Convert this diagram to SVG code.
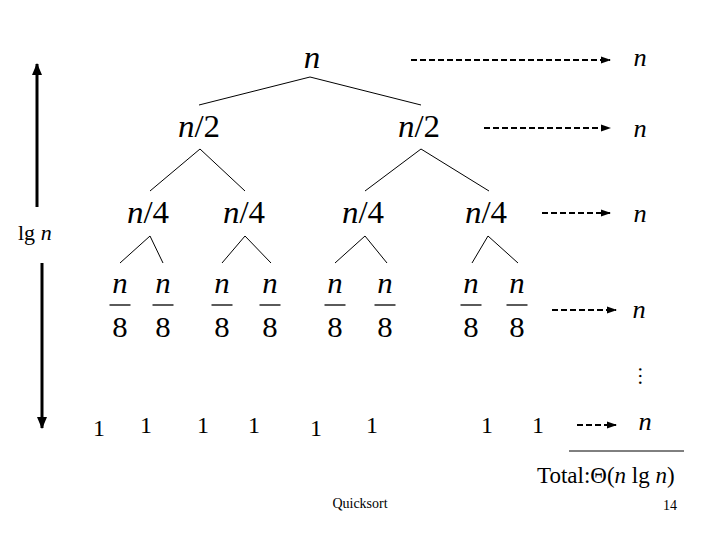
<svg xmlns="http://www.w3.org/2000/svg" width="720" height="540" viewBox="0 0 720 540">
<style>
text{font-family:"Liberation Serif","Times New Roman",serif;fill:#000;font-size:22px}
.i{font-style:italic}
.m{text-anchor:middle}
.edge{stroke:#000;stroke-width:1;fill:none}
.bar{stroke:#000;stroke-width:1.3}
.dash{stroke:#000;stroke-width:2;stroke-dasharray:6 3;fill:none}
.big{stroke:#000;stroke-width:3;fill:none}
</style>
<defs>
<marker id="ah" markerUnits="userSpaceOnUse" markerWidth="10" markerHeight="8" refX="9" refY="4" orient="auto"><path d="M0,0.5 L10,4 L0,7.5 z" fill="#000"/></marker>
<marker id="ahb" markerUnits="userSpaceOnUse" markerWidth="12" markerHeight="10" refX="11" refY="5" orient="auto"><path d="M0,0 L12,5 L0,10 z" fill="#000"/></marker>
</defs>
<rect width="720" height="540" fill="#fff"/>

<g id="connectors">
<line class="edge" x1="310" y1="77" x2="199" y2="105"/>
<line class="edge" x1="310" y1="77" x2="421" y2="105"/>
<line class="edge" x1="200" y1="149" x2="150" y2="191"/>
<line class="edge" x1="200" y1="149" x2="245" y2="191"/>
<line class="edge" x1="421" y1="149" x2="365" y2="191"/>
<line class="edge" x1="421" y1="149" x2="489" y2="191"/>
<line class="edge" x1="150" y1="236" x2="120" y2="263"/>
<line class="edge" x1="150" y1="236" x2="163" y2="263"/>
<line class="edge" x1="245" y1="236" x2="222" y2="263"/>
<line class="edge" x1="245" y1="236" x2="271" y2="263"/>
<line class="edge" x1="365" y1="236" x2="335" y2="263"/>
<line class="edge" x1="365" y1="236" x2="387" y2="263"/>
<line class="edge" x1="488" y1="236" x2="472" y2="263"/>
<line class="edge" x1="488" y1="236" x2="518" y2="263"/>
<line class="dash" x1="411" y1="60" x2="610" y2="60" marker-end="url(#ah)"/>
<line class="dash" x1="484" y1="128" x2="610" y2="128" marker-end="url(#ah)"/>
<line class="dash" x1="542" y1="213" x2="610" y2="213" marker-end="url(#ah)"/>
<line class="dash" x1="552" y1="310" x2="616" y2="310" marker-end="url(#ah)"/>
<line class="dash" x1="577" y1="425" x2="616" y2="425" marker-end="url(#ah)"/>
<line class="big" x1="37" y1="207" x2="37" y2="64" marker-end="url(#ahb)"/>
<line class="big" x1="42" y1="263" x2="42" y2="428" marker-end="url(#ahb)"/>
<line class="edge" x1="569" y1="451" x2="684" y2="451"/>
</g>

<g id="n-root"><text class="m i" transform="translate(312,68) scale(1.5,1.4)">n</text></g>
<g id="n2-left"><text class="m" transform="translate(199,137) scale(1.5,1.4)"><tspan class="i">n</tspan>/2</text></g>
<g id="n2-right"><text class="m" transform="translate(419,137) scale(1.5,1.4)"><tspan class="i">n</tspan>/2</text></g>
<g id="n4-1"><text class="m" transform="translate(148,223) scale(1.5,1.4)"><tspan class="i">n</tspan>/4</text></g>
<g id="n4-2"><text class="m" transform="translate(244,223) scale(1.5,1.4)"><tspan class="i">n</tspan>/4</text></g>
<g id="n4-3"><text class="m" transform="translate(363,223) scale(1.5,1.4)"><tspan class="i">n</tspan>/4</text></g>
<g id="n4-4"><text class="m" transform="translate(486,223) scale(1.5,1.4)"><tspan class="i">n</tspan>/4</text></g>

<g id="n8-1"><text class="m i" transform="translate(120,293) scale(1.4,1.3)">n</text><line class="bar" x1="109.5" y1="305" x2="130.5" y2="305"/><text class="m" transform="translate(120,337) scale(1.4,1.3)">8</text></g>
<g id="n8-2"><text class="m i" transform="translate(163,293) scale(1.4,1.3)">n</text><line class="bar" x1="152.5" y1="305" x2="173.5" y2="305"/><text class="m" transform="translate(163,337) scale(1.4,1.3)">8</text></g>
<g id="n8-3"><text class="m i" transform="translate(222,293) scale(1.4,1.3)">n</text><line class="bar" x1="211.5" y1="305" x2="232.5" y2="305"/><text class="m" transform="translate(222,337) scale(1.4,1.3)">8</text></g>
<g id="n8-4"><text class="m i" transform="translate(270,293) scale(1.4,1.3)">n</text><line class="bar" x1="259.5" y1="305" x2="280.5" y2="305"/><text class="m" transform="translate(270,337) scale(1.4,1.3)">8</text></g>
<g id="n8-5"><text class="m i" transform="translate(335,293) scale(1.4,1.3)">n</text><line class="bar" x1="324.5" y1="305" x2="345.5" y2="305"/><text class="m" transform="translate(335,337) scale(1.4,1.3)">8</text></g>
<g id="n8-6"><text class="m i" transform="translate(385,293) scale(1.4,1.3)">n</text><line class="bar" x1="374.5" y1="305" x2="395.5" y2="305"/><text class="m" transform="translate(385,337) scale(1.4,1.3)">8</text></g>
<g id="n8-7"><text class="m i" transform="translate(471,293) scale(1.4,1.3)">n</text><line class="bar" x1="460.5" y1="305" x2="481.5" y2="305"/><text class="m" transform="translate(471,337) scale(1.4,1.3)">8</text></g>
<g id="n8-8"><text class="m i" transform="translate(517,293) scale(1.4,1.3)">n</text><line class="bar" x1="506.5" y1="305" x2="527.5" y2="305"/><text class="m" transform="translate(517,337) scale(1.4,1.3)">8</text></g>

<g id="leaves">
<text class="m" x="99" y="436" style="font-size:24px">1</text>
<text class="m" x="146" y="433" style="font-size:24px">1</text>
<text class="m" x="203" y="433" style="font-size:24px">1</text>
<text class="m" x="254" y="433" style="font-size:24px">1</text>
<text class="m" x="316" y="436" style="font-size:24px">1</text>
<text class="m" x="372" y="433" style="font-size:24px">1</text>
<text class="m" x="487" y="433" style="font-size:24px">1</text>
<text class="m" x="538" y="433" style="font-size:24px">1</text>
</g>

<g id="row-costs">
<text class="m i" transform="translate(640,66) scale(1.2,1.15)">n</text>
<text class="m i" transform="translate(640,137) scale(1.2,1.15)">n</text>
<text class="m i" transform="translate(640,222) scale(1.2,1.15)">n</text>
<text class="m i" transform="translate(639,318) scale(1.2,1.15)">n</text>
<text class="m i" transform="translate(645,430) scale(1.2,1.15)">n</text>
<text class="m" transform="translate(640,376) rotate(90)" x="0" y="1.5" style="font-size:20px">…</text>
</g>

<g id="height-label"><text x="18" y="240">lg <tspan class="i">n</tspan></text></g>
<g id="total"><text x="537" y="483" style="font-size:23px">Total:Θ(<tspan class="i">n</tspan> lg <tspan class="i">n</tspan>)</text></g>
<g id="footer">
<text class="m" x="360" y="508" style="font-size:14px">Quicksort</text>
<text class="m" x="670" y="510" style="font-size:14px">14</text>
</g>
</svg>
